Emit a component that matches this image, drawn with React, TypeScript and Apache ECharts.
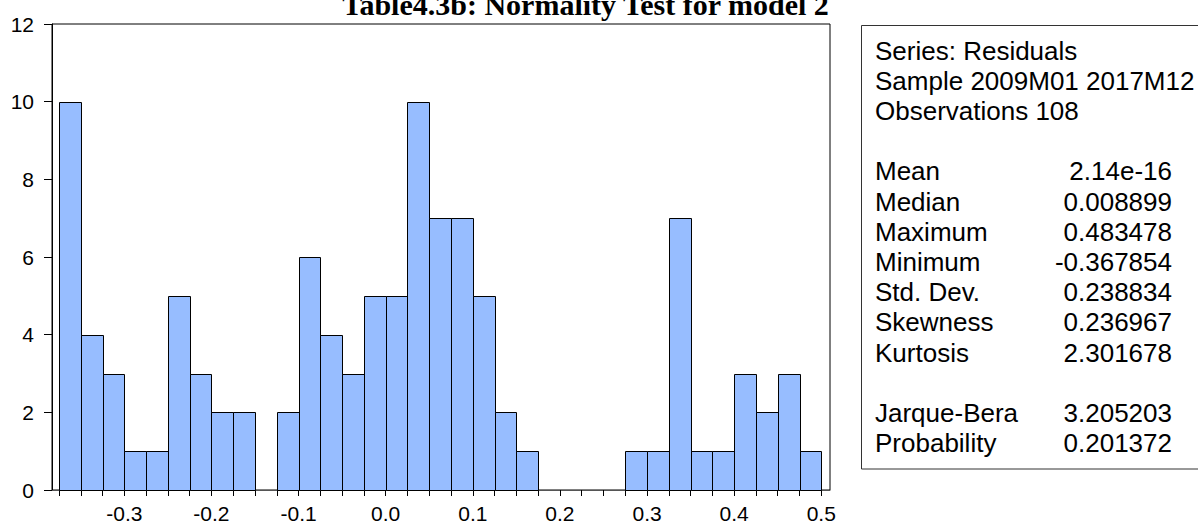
import { useEffect, useRef } from "react";
import * as echarts from "echarts";

// ---- data ----
const binStart = -0.375;
const binWidth = 0.025;
const counts = [
  10, 4, 3, 1, 1, 5, 3, 2, 2, 0, 2, 6, 4, 3, 5, 5, 10, 7, 7, 5, 2, 1, 0, 0, 0, 0, 1, 1, 7, 1, 1, 3, 2, 3, 1,
];
const xTickLabels = [-0.3, -0.2, -0.1, 0.0, 0.1, 0.2, 0.3, 0.4, 0.5];
const yMin = 0;
const yMax = 12;
const yStep = 2;
const titleText = "Table4.3b: Normality Test for model 2";
const headerLines = ["Series: Residuals", "Sample 2009M01 2017M12", "Observations 108"];
const statLabels = ["Mean", "Median", "Maximum", "Minimum", "Std. Dev.", "Skewness", "Kurtosis", "", "Jarque-Bera", "Probability"];
const statValues = ["2.14e-16", "0.008899", "0.483478", "-0.367854", "0.238834", "0.236967", "2.301678", "", "3.205203", "0.201372"];

const SANS = '"Liberation Sans", Arial, sans-serif';
const SERIF = '"Liberation Serif", "Times New Roman", serif';

export default function App() {
  const ref = useRef<HTMLDivElement>(null);

  useEffect(() => {
    if (!ref.current) return;
    const chart = echarts.init(ref.current, undefined, { renderer: "svg" });

    const edges: number[] = [];
    for (let i = 0; i <= counts.length; i++) edges.push(+(binStart + i * binWidth).toFixed(3));
    const data = counts.map((c, i) => [edges[i], edges[i + 1], c]);

    const lineH = 30.2;
    const firstY = 50.5;
    const textStyle = (text: string, align: string) => ({
      text,
      fill: "#000",
      font: `26px ${SANS}`,
      align,
      verticalAlign: "middle",
      textAlign: align,
      textVerticalAlign: "middle",
    });
    const textEls: any[] = [];
    headerLines.forEach((t, i) => {
      textEls.push({ type: "text", x: 875, y: firstY + i * lineH, style: textStyle(t, "left") });
    });
    statLabels.forEach((t, i) => {
      if (!t) return;
      const y = firstY + (i + 4) * lineH;
      textEls.push({ type: "text", x: 875, y, style: textStyle(t, "left") });
      textEls.push({ type: "text", x: 1172, y, style: textStyle(statValues[i], "right") });
    });

    const option: any = {
      animation: false,
      backgroundColor: "#ffffff",
      grid: {
        left: 52,
        top: 24,
        width: 778,
        height: 467,
        show: true,
        borderColor: "#000",
        borderWidth: 1,
        backgroundColor: "transparent",
      },
      xAxis: {
        type: "value",
        min: -0.38303,
        max: 0.51,
        axisLine: { show: true, onZero: false, lineStyle: { color: "#555", width: 1 } },
        axisTick: { show: true, length: 6, customValues: edges, lineStyle: { color: "#000" } },
        axisLabel: {
          customValues: xTickLabels,
          formatter: (v: number) => v.toFixed(1),
          fontSize: 21,
          fontFamily: SANS,
          color: "#000",
          margin: 13,
        },
        splitLine: { show: false },
      },
      yAxis: {
        type: "value",
        min: yMin,
        max: yMax,
        interval: yStep,
        axisLine: { show: true, onZero: false, lineStyle: { color: "#000", width: 1 } },
        axisTick: { show: true, length: 8, lineStyle: { color: "#000" } },
        axisLabel: { fontSize: 21, fontFamily: SANS, color: "#000", margin: 18 },
        splitLine: { show: false },
      },
      series: [
        {
          type: "custom",
          encode: { x: [0, 1], y: 2 },
          data,
          renderItem: (_params: any, api: any) => {
            const x0 = api.value(0);
            const x1 = api.value(1);
            const c = api.value(2);
            if (!c) return null;
            const p0 = api.coord([x0, c]);
            const p1 = api.coord([x1, 0]);
            const left = Math.round(p0[0]) + 0.5;
            const right = Math.round(p1[0]) + 0.5;
            const top = Math.round(p0[1]) + 0.5;
            const bottom = Math.round(p1[1]) + 0.5;
            return {
              type: "rect",
              shape: { x: left, y: top, width: right - left, height: bottom - top },
              style: { fill: "#97BDFF", stroke: "#000", lineWidth: 1 },
            };
          },
        },
      ],
      graphic: [
        {
          type: "text",
          x: 585.5,
          y: 4.5,
          style: {
            text: titleText,
            fill: "#000",
            font: `bold 30px ${SERIF}`,
            align: "center",
            verticalAlign: "middle",
            textAlign: "center",
            textVerticalAlign: "middle",
          },
        },
        {
          type: "rect",
          shape: { x: 861.5, y: 25.5, width: 400, height: 443.5 },
          style: { fill: "#fff", stroke: "#333", lineWidth: 1 },
        },
        ...textEls,
      ],
    };

    chart.setOption(option);
    return () => chart.dispose();
  }, []);

  return (
    <div
      ref={ref}
      style={{ position: "fixed", left: 0, top: 0, width: 1198, height: 524, background: "#fff" }}
    />
  );
}
